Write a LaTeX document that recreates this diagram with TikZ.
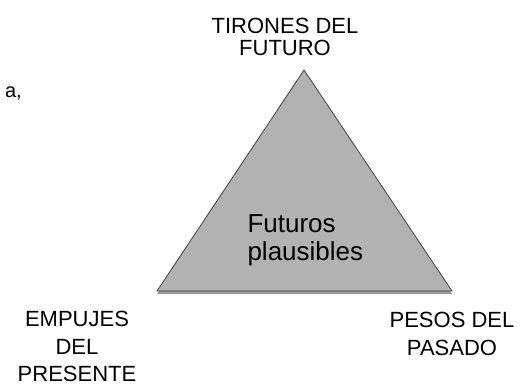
\documentclass[tikz,border=0pt]{standalone}
\usepackage{fontspec}
\setmainfont{Liberation Sans}
\usetikzlibrary{shadows}

\tikzset{
  corner/.style={align=center,font=\fontsize{22}{27.5}\selectfont,anchor=base},
  inner/.style={align=left,font=\fontsize{26}{28}\selectfont,anchor=base west},
}

\begin{document}
\begin{tikzpicture}[x=1pt,y=-1pt]
        \useasboundingbox (0,0) rectangle (520,386);
        \coordinate (top) at (304,70);
        \coordinate (left) at (157,291);
        \coordinate (right) at (452,291);
        \draw[draw=black!75,fill=black!30,line width=0.8pt,
          drop shadow={shadow xshift=0pt,shadow yshift=-3pt,opacity=0.8}]
          (top) -- (left) -- (right) -- cycle;
        % base = last line
        \node[inner] (plaus) at (244,260) {Futuros\\plausibles};
        \node[corner,font=\fontsize{22}{22}\selectfont] (tirones) at (285,55) {TIRONES DEL\\FUTURO};
        \node[corner] (empujes) at (77,381.5) {EMPUJES\\DEL\\PRESENTE};
        \node[corner] (pesos) at (452,355) {PESOS DEL\\PASADO};
        \node[anchor=base east,font=\fontsize{20}{24}\selectfont,inner sep=0pt] (frag) at (22,97) {a,};
      \end{tikzpicture}
\end{document}
